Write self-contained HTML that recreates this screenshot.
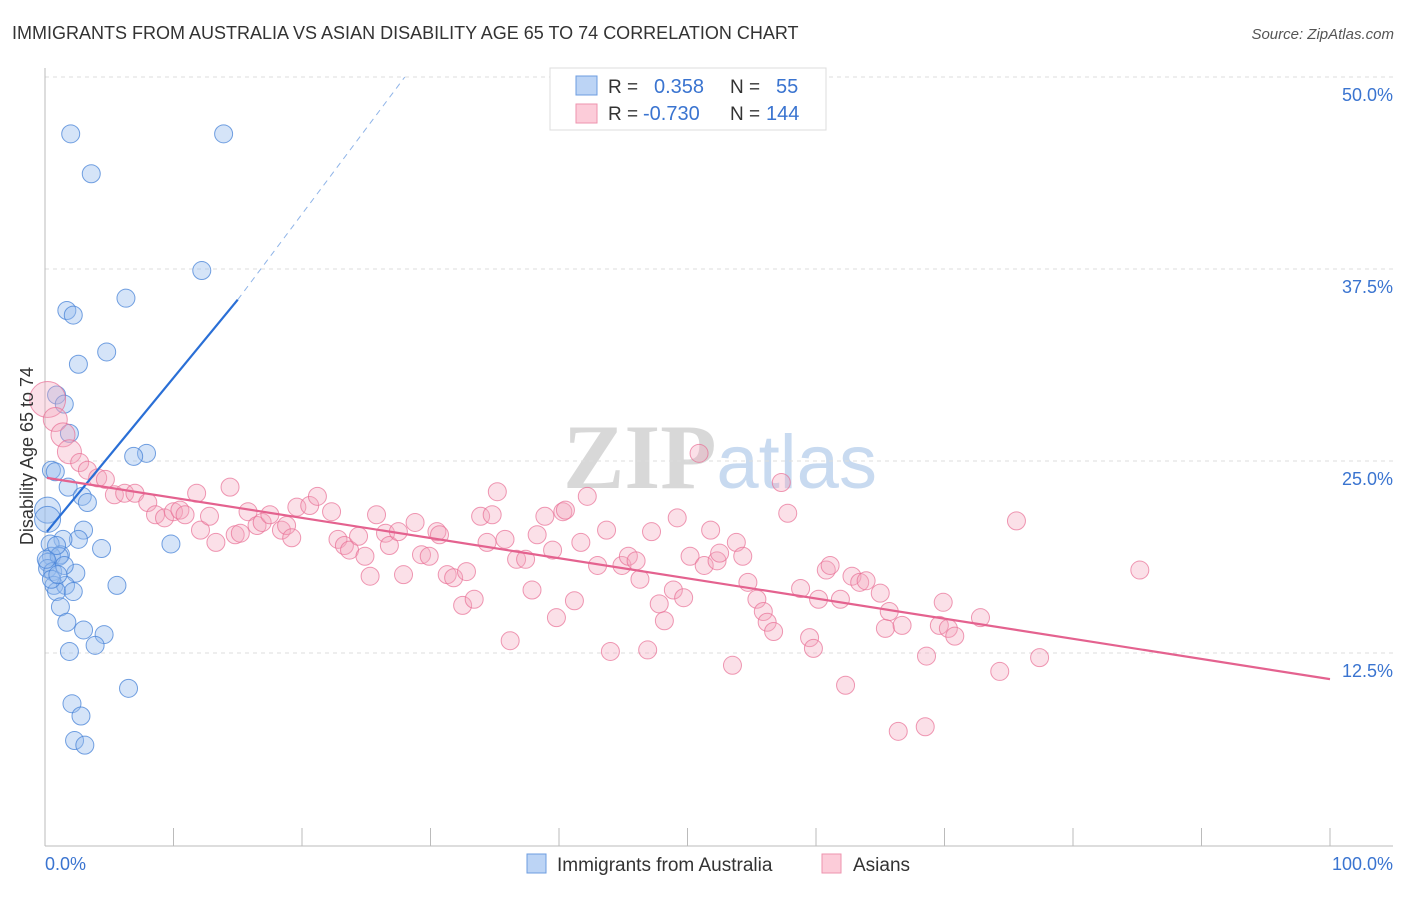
<!DOCTYPE html>
<html><head><meta charset="utf-8">
<style>
body{margin:0;background:#fff;font-family:"Liberation Sans",sans-serif;}
svg text{font-family:"Liberation Sans",sans-serif;}
</style></head>
<body>
<svg id="chart" width="1406" height="892" viewBox="0 0 1406 892">
<text x="12" y="39" font-size="18" fill="#333">IMMIGRANTS FROM AUSTRALIA VS ASIAN DISABILITY AGE 65 TO 74 CORRELATION CHART</text>
<text x="1394" y="39" font-size="15" fill="#555" font-style="italic" text-anchor="end">Source: ZipAtlas.com</text>
<text x="720" y="488" font-size="92" text-anchor="middle"><tspan fill="#d8d8d8" font-family="Liberation Serif" font-weight="bold">ZIP</tspan><tspan fill="#c8daf0" font-size="76">atlas</tspan></text>
<g id="grid"></g>
<g id="axes"></g>
<g id="blue"></g>
<g id="pink"></g>
<g id="lines"></g>
<text transform="translate(33,456) rotate(-90)" font-size="18" fill="#333" text-anchor="middle">Disability Age 65 to 74</text>
<g>
<rect x="550" y="68" width="276" height="62" fill="#fff" stroke="#ddd"/>
<rect x="576" y="76" width="21" height="19" fill="#bcd4f5" stroke="#6d9de0"/>
<rect x="576" y="104" width="21" height="19" fill="#fcccd9" stroke="#ee93ae"/>
<text x="608" y="93" font-size="19" fill="#333">R =</text>
<text x="654" y="93" font-size="20" fill="#3a74d0">0.358</text>
<text x="730" y="93" font-size="19" fill="#333">N =</text>
<text x="776" y="93" font-size="20" fill="#3a74d0">55</text>
<text x="608" y="120" font-size="19" fill="#333">R =</text>
<text x="643" y="120" font-size="20" fill="#3a74d0">-0.730</text>
<text x="730" y="120" font-size="19" fill="#333">N =</text>
<text x="766" y="120" font-size="20" fill="#3a74d0">144</text>
</g>
<g>
<rect x="527" y="854" width="19" height="19" fill="#bcd4f5" stroke="#6d9de0"/>
<text x="557" y="871" font-size="19" fill="#333">Immigrants from Australia</text>
<rect x="822" y="854" width="19" height="19" fill="#fcccd9" stroke="#ee93ae"/>
<text x="853" y="871" font-size="19" fill="#333">Asians</text>
</g>
</svg>
<script>
const blueX=[2.0,13.9,3.6,12.2,6.3,1.7,2.2,4.8,2.6,0.9,1.5,1.9,7.9,6.9,0.5,0.8,1.8,0.2,2.9,3.3,3.0,2.6,1.4,0.4,4.4,9.8,1.2,0.5,0.2,1.1,0.2,0.6,2.4,0.7,1.6,5.6,0.9,2.2,1.2,1.7,3.0,4.6,3.9,1.9,6.5,2.1,2.8,2.3,3.1,0.2,0.1,0.5,0.9,1.5,1.0];
const blueY=[46.3,46.3,43.7,37.4,35.6,34.8,34.5,32.1,31.3,29.3,28.7,26.8,25.5,25.3,24.4,24.3,23.3,21.8,22.7,22.3,20.5,19.9,19.9,19.6,19.3,19.6,18.9,18.8,18.4,18.8,18.0,17.8,17.7,16.9,16.9,16.9,16.5,16.5,15.5,14.5,14.0,13.7,13.0,12.6,10.2,9.2,8.4,6.8,6.5,21.2,18.6,17.3,19.5,18.2,17.6];
const pinkX=[0.2,0.8,1.4,1.9,2.7,3.3,4.1,4.7,5.4,6.2,7.0,8.0,8.6,9.3,10.0,10.5,10.9,11.8,12.1,12.8,13.3,14.4,14.8,15.2,15.8,16.5,16.9,17.5,18.4,18.8,19.2,19.6,20.6,21.2,22.3,22.8,23.3,23.7,24.4,24.9,25.3,25.8,26.5,26.8,27.5,27.9,28.8,29.3,29.9,30.5,30.7,31.3,31.8,32.5,32.8,33.4,33.9,34.4,34.8,35.2,35.8,36.2,36.7,37.4,37.9,38.3,38.9,39.5,39.8,40.3,40.5,41.2,41.7,42.2,43.0,43.7,44.0,44.9,45.4,46.0,46.3,46.9,47.2,47.8,48.2,48.9,49.2,49.7,50.2,50.9,51.3,51.8,52.3,52.5,53.5,53.8,54.3,54.7,55.4,55.9,56.2,56.7,57.3,57.8,58.8,59.5,59.8,60.2,60.8,61.1,61.9,62.3,62.8,63.4,63.9,65.0,65.4,65.7,66.4,66.7,68.5,68.6,69.6,69.9,70.3,70.8,72.8,74.3,75.6,77.4,85.2];
const pinkY=[29.0,27.7,26.7,25.6,24.9,24.4,23.9,23.8,22.8,22.9,22.9,22.3,21.5,21.3,21.7,21.8,21.5,22.9,20.5,21.4,19.7,23.3,20.2,20.3,21.7,20.8,21.0,21.5,20.5,20.8,20.0,22.0,22.1,22.7,21.7,19.9,19.5,19.2,20.1,18.8,17.5,21.5,20.3,19.5,20.4,17.6,21.0,18.9,18.8,20.4,20.2,17.6,17.4,15.6,17.8,16.0,21.4,19.7,21.5,23.0,19.9,13.3,18.6,18.6,16.6,20.2,21.4,19.2,14.8,21.7,21.8,15.9,19.7,22.7,18.2,20.5,12.6,18.2,18.8,18.5,17.3,12.7,20.4,15.7,14.6,16.6,21.3,16.1,18.8,25.5,18.2,20.5,18.5,19.0,11.7,19.7,18.8,17.1,16.0,15.2,14.5,13.9,23.6,21.6,16.7,13.5,12.8,16.0,17.9,18.2,16.0,10.4,17.5,17.1,17.2,16.4,14.1,15.2,7.4,14.3,7.7,12.3,14.3,15.8,14.1,13.6,14.8,11.3,21.1,12.2,17.9];
const yTicks=[12.5,25.0,37.5,50.0];
const xTickLabels=["0.0%","100.0%"];
const blueLine=[[0.15,20.4],[15,35.5]];
const blueDash=[[15,35.5],[28,50]];
const pinkLine=[[0.15,23.9],[100,10.8]];

const NS="http://www.w3.org/2000/svg";
const X0=45,X1=1330,Y0=845,YPX=15.36;
const sx=v=>X0+v*(X1-X0)/100;
const sy=v=>Y0-v*YPX;
function mk(tag,attrs,parent){const e=document.createElementNS(NS,tag);for(const k in attrs)e.setAttribute(k,attrs[k]);parent.appendChild(e);return e;}
const grid=document.getElementById('grid'),axes=document.getElementById('axes');
yTicks.forEach(t=>{
  const l=mk('line',{x1:45,x2:1393,y1:sy(t),y2:sy(t),stroke:'#ddd','stroke-dasharray':'4,4'},grid);
  
  
  const tx=mk('text',{x:1393,y:sy(t)+24,'font-size':18,fill:'#3a74d0','text-anchor':'end'},axes);
  tx.textContent=t.toFixed(1)+'%';
  
  
});
mk('line',{x1:45,x2:45,y1:68,y2:846,stroke:'#bbb'},axes);
mk('line',{x1:45,x2:1393,y1:846,y2:846,stroke:'#bbb'},axes);
for(let i=0;i<=10;i++){const t=mk('line',{x1:sx(i*10),x2:sx(i*10),y1:828,y2:846,stroke:'#bbb'},axes);
  
  }
const xl0=mk('text',{x:45,y:870,'font-size':18,fill:'#3a74d0'},axes);xl0.textContent=xTickLabels[0];


const xl1=mk('text',{x:1393,y:870,'font-size':18,fill:'#3a74d0','text-anchor':'end'},axes);xl1.textContent=xTickLabels[1];



const pg=document.getElementById('pink');
pinkX.forEach((x,i)=>{const r=i<4?(i==0?18:12):9;
  const c=mk('circle',{cx:sx(x),cy:sy(pinkY[i]),r:r,fill:'rgba(244,166,190,0.35)',stroke:'rgba(232,110,148,0.7)','stroke-width':1},pg);
  
  });
const bg=document.getElementById('blue');
blueX.forEach((x,i)=>{const r=(i==17||i==49)?13:9;
  const c=mk('circle',{cx:sx(x),cy:sy(blueY[i]),r:r,fill:'rgba(150,188,238,0.4)',stroke:'rgba(70,130,215,0.75)','stroke-width':1},bg);
  
  });
const lg=document.getElementById('lines');
const bl=mk('line',{x1:sx(blueLine[0][0]),y1:sy(blueLine[0][1]),x2:sx(blueLine[1][0]),y2:sy(blueLine[1][1]),stroke:'#2a6fd6','stroke-width':2.2},lg);


const bd=mk('line',{x1:sx(blueDash[0][0]),y1:sy(blueDash[0][1]),x2:sx(blueDash[1][0]),y2:sy(blueDash[1][1]),stroke:'#8fb4e8','stroke-width':1,'stroke-dasharray':'6,5'},lg);


const pl=mk('line',{x1:sx(pinkLine[0][0]),y1:sy(pinkLine[0][1]),x2:sx(pinkLine[1][0]),y2:sy(pinkLine[1][1]),stroke:'#e4628f','stroke-width':2.2},lg);


</script>
</body></html>
